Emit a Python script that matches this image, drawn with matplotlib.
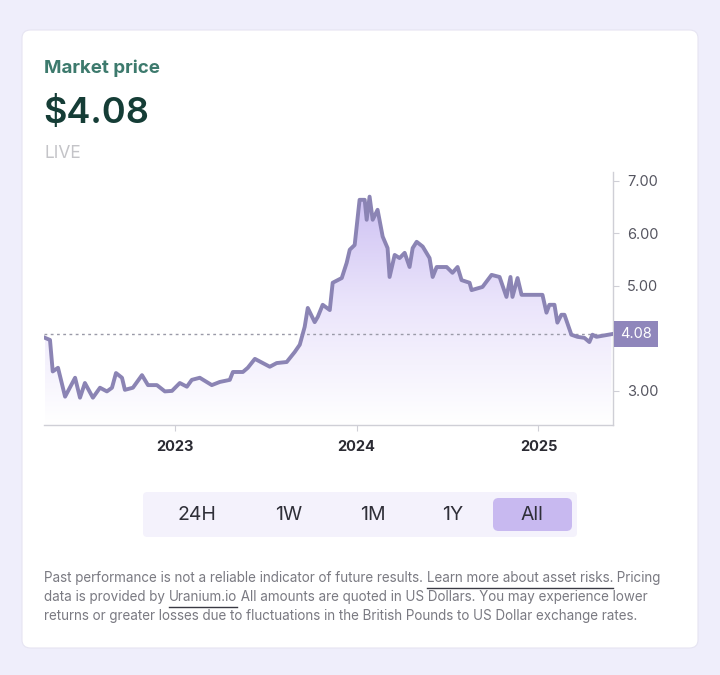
import matplotlib
matplotlib.use("Agg")
import matplotlib.pyplot as plt
import numpy as np
from matplotlib.patches import FancyBboxPatch, Polygon
from matplotlib.colors import LinearSegmentedColormap

plt.rcParams["font.family"] = ["Inter", "DejaVu Sans"]

# price history (decimal year, USD)
years = [2022.286, 2022.313, 2022.328, 2022.357, 2022.396, 2022.451, 2022.478, 2022.505,
         2022.549, 2022.588, 2022.626, 2022.654, 2022.676, 2022.709, 2022.725, 2022.769,
         2022.819, 2022.852, 2022.901, 2022.945, 2022.984, 2023.027, 2023.066, 2023.093,
         2023.137, 2023.203, 2023.247, 2023.302, 2023.319, 2023.374, 2023.401, 2023.440,
         2023.522, 2023.560, 2023.615, 2023.659, 2023.687, 2023.714, 2023.731, 2023.769,
         2023.786, 2023.813, 2023.852, 2023.868, 2023.918, 2023.945, 2023.962, 2023.989,
         2024.016, 2024.044, 2024.055, 2024.071, 2024.088, 2024.115, 2024.143, 2024.170,
         2024.181, 2024.209, 2024.236, 2024.264, 2024.291, 2024.308, 2024.330, 2024.363,
         2024.401, 2024.418, 2024.440, 2024.495, 2024.527, 2024.555, 2024.577, 2024.621,
         2024.632, 2024.692, 2024.742, 2024.786, 2024.824, 2024.846, 2024.857, 2024.885,
         2024.907, 2025.022, 2025.044, 2025.060, 2025.088, 2025.104, 2025.126, 2025.143,
         2025.181, 2025.214, 2025.253, 2025.280, 2025.297, 2025.319, 2025.401]
prices = [4.01, 3.97, 3.37, 3.44, 2.89, 3.25, 2.87, 3.15,
          2.87, 3.06, 2.99, 3.06, 3.34, 3.25, 3.02, 3.06,
          3.30, 3.11, 3.11, 2.99, 3.00, 3.15, 3.08, 3.21,
          3.25, 3.11, 3.17, 3.21, 3.36, 3.36, 3.44, 3.61,
          3.46, 3.53, 3.55, 3.74, 3.88, 4.22, 4.58, 4.31,
          4.41, 4.64, 4.54, 5.06, 5.15, 5.44, 5.69, 5.78,
          6.64, 6.64, 6.26, 6.70, 6.26, 6.45, 5.94, 5.72,
          5.17, 5.59, 5.53, 5.63, 5.36, 5.72, 5.84, 5.75,
          5.53, 5.17, 5.36, 5.36, 5.25, 5.36, 5.11, 5.06,
          4.92, 4.98, 5.21, 5.17, 4.79, 5.17, 4.79, 5.15,
          4.83, 4.83, 4.49, 4.64, 4.64, 4.30, 4.45, 4.45,
          4.07, 4.03, 4.01, 3.93, 4.07, 4.03, 4.08]
current_price = 4.08
year_ticks = [2023, 2024, 2025]
price_ticks = [3.0, 4.0, 5.0, 6.0, 7.0]
price_labels = ["3.00", "", "5.00", "6.00", "7.00"]
ranges = ["24H", "1W", "1M", "1Y", "All"]
range_x = [197, 289, 373, 453, 532]

W, H = 720, 675
fig = plt.figure(figsize=(W / 100, H / 100), dpi=100)
fig.patch.set_facecolor("#efeefb")


def fx(px):
    return px / W


def fy(py):
    return 1 - py / H


# card
card = FancyBboxPatch((fx(22), fy(648)), fx(676), 618 / H,
                      boxstyle="round,pad=0,rounding_size=0.012",
                      transform=fig.transFigure, facecolor="white",
                      edgecolor="#e6e4f2", linewidth=0.8, zorder=-5)
fig.patches.append(card)

fig.text(fx(44), fy(68), "Market price", fontsize=13.5, fontweight="bold",
         color="#3d7a6d", va="center")
fig.text(fx(43), fy(113), "$4.08", fontsize=26, fontweight="semibold",
         color="#153d36", va="center")
fig.text(fx(44), fy(154), "LIVE", fontsize=12.5, color="#c4c4c8", va="center")

ax = fig.add_axes([fx(44), fy(425), fx(569), 253 / H])
ax.set_zorder(2)
ax.set_facecolor("none")

# gradient fill under the line
cmap = LinearSegmentedColormap.from_list("fade", ["#ffffff", "#ebe5fb", "#cbbef2"])
grad = np.linspace(0, 1, 256).reshape(-1, 1)
img = ax.imshow(grad, aspect="auto", cmap=cmap, origin="lower",
                extent=[years[0], years[-1], 2.35, 6.9], zorder=1)
poly = Polygon(list(zip(years, prices)) + [(years[-1], 2.35), (years[0], 2.35)],
               closed=True, facecolor="none", edgecolor="none")
ax.add_patch(poly)
img.set_clip_path(poly)
ax.set_xlim(2022.28, 2025.41)
ax.set_ylim(2.35, 7.17)

ax.axhline(current_price, color="#9a9aa8", lw=1, ls=(0, (2, 2.5)), zorder=2)
ax.plot(years, prices, color="#8b84b4", lw=2.8, solid_joinstyle="round", zorder=3)

for s in ["top", "left"]:
    ax.spines[s].set_visible(False)
ax.spines["right"].set_color("#cfcfd6")
ax.spines["bottom"].set_color("#cfcfd6")
ax.spines["right"].set_linewidth(1)
ax.spines["bottom"].set_linewidth(1)

ax.yaxis.tick_right()
ax.set_yticks(price_ticks)
ax.set_yticklabels(price_labels)
ax.tick_params(axis="y", length=4, color="#cfcfd6", labelsize=10.5,
               labelcolor="#555560", pad=6)
ax.set_xticks(year_ticks)
ax.set_xticklabels([str(y) for y in year_ticks])
ax.tick_params(axis="x", length=4, color="#cfcfd6", labelsize=10.5,
               labelcolor="#2b2b33", pad=7)
for lab in ax.get_xticklabels():
    lab.set_fontweight("bold")

ax.annotate(f"{current_price:.2f}", xy=(1, current_price),
            xycoords=("axes fraction", "data"), xytext=(5, 0),
            textcoords="offset points", va="center", ha="left",
            fontsize=10.5, color="white",
            bbox=dict(boxstyle="square,pad=0.4", fc="#8f86bb", ec="none"))

# range selector
bar = FancyBboxPatch((fx(143), fy(537)), fx(434), 45 / H,
                     boxstyle="round,pad=0,rounding_size=0.006",
                     transform=fig.transFigure, facecolor="#f4f2fc",
                     edgecolor="none", zorder=1)
fig.patches.append(bar)
sel = FancyBboxPatch((fx(493), fy(531)), fx(79), 33 / H,
                     boxstyle="round,pad=0,rounding_size=0.008",
                     transform=fig.transFigure, facecolor="#c8b9f0",
                     edgecolor="none", zorder=2)
fig.patches.append(sel)
for lbl, x in zip(ranges, range_x):
    fig.text(fx(x), fy(515), lbl, fontsize=14, color="#2f2f38",
             ha="center", va="center", zorder=3)

# footer with underlined links
footer = [
    [("Past performance is not a reliable indicator of future results. ", False),
     ("Learn more about asset risks.", True), (" Pricing", False)],
    [("data is provided by ", False), ("Uranium.io", True),
     (" All amounts are quoted in US Dollars. You may experience lower", False)],
    [("returns or greater losses due to fluctuations in the British Pounds to US Dollar exchange rates.", False)],
]
renderer = fig.canvas.get_renderer()
line_y = [578, 597, 616]
for parts, ly in zip(footer, line_y):
    x = 44
    for txt, link in parts:
        t = fig.text(fx(x), fy(ly), txt, fontsize=9.7, color="#7a7a82",
                     va="center", ha="left")
        bb = t.get_window_extent(renderer)
        if link:
            fig.add_artist(plt.Line2D([fx(x), fx(x + bb.width)],
                                      [fy(ly + 10), fy(ly + 10)],
                                      transform=fig.transFigure,
                                      color="#3a3a44", lw=1))
        x += bb.width

fig.savefig("out.png", dpi=100, facecolor=fig.get_facecolor())
